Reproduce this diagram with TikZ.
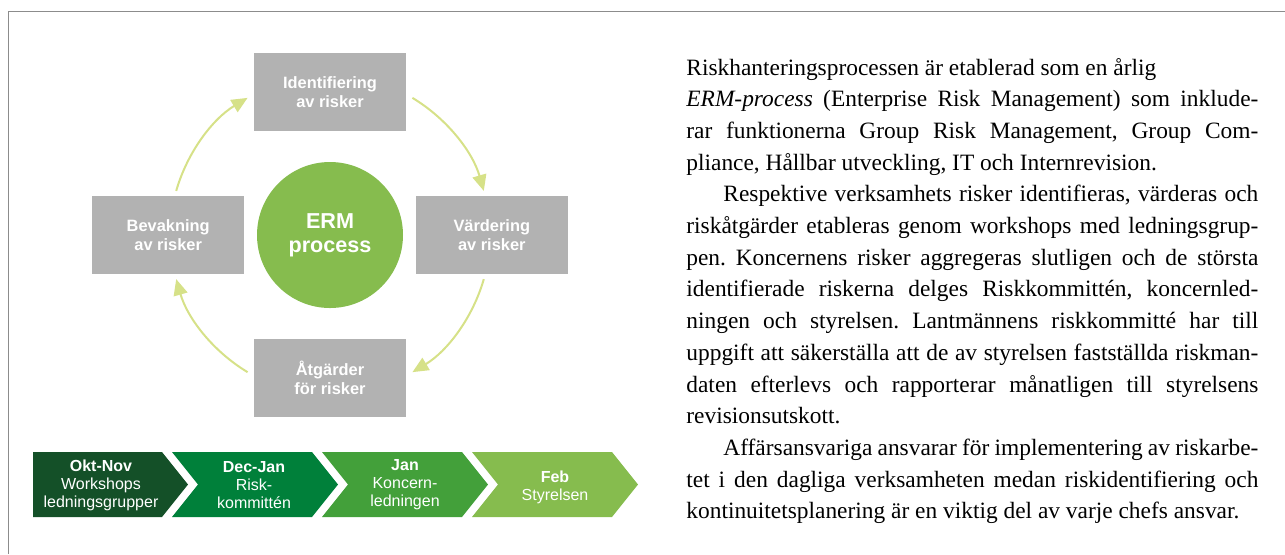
\documentclass[tikz,border=0pt]{standalone}
\usepackage{fontspec}
\setmainfont{Liberation Serif}
\setsansfont{Liberation Sans}
\usepackage{tikz}
\usetikzlibrary{arrows.meta, positioning}
\definecolor{boxgray}{RGB}{178,178,178}
\definecolor{ermgreen}{RGB}{134,188,78}
\definecolor{arrowgreen}{RGB}{214,225,136}
\definecolor{framegray}{RGB}{140,140,140}
\definecolor{phaseA}{RGB}{20,80,40}
\definecolor{phaseB}{RGB}{0,128,58}
\definecolor{phaseC}{RGB}{67,160,58}
\definecolor{phaseD}{RGB}{134,188,78}
\tikzset{
  stepbox/.style={
    rectangle, fill=boxgray, text=white, align=center,
    minimum width=76pt, minimum height=39pt,
    font=\sffamily\bfseries\fontsize{8.2}{9.5}\selectfont
  },
  ermcircle/.style={circle, fill=ermgreen, text=white, align=center, inner sep=0pt,
    minimum size=73pt, font=\sffamily\bfseries\fontsize{10.8}{12}\selectfont},
  cyclearrow/.style={-{Triangle[length=8pt,width=7pt]}, line width=1pt, color=arrowgreen},
  phasetext/.style={text=white, align=center, font=\sffamily\fontsize{8}{9}\selectfont},
  bodytext/.style={anchor=base west, inner sep=0pt, text width=286pt, align=justify,
    font=\rmfamily\fontsize{11.7}{15.85}\selectfont}
}

\begin{document}
\begin{tikzpicture}[x=0.5pt, y=-0.5pt]
  \useasboundingbox (0,0) rectangle (1285,554);
  \draw[framegray, line width=0.8pt] (8.5,554) -- (8.5,11.5) -- (1285,11.5);

  % process cycle
  \node[ermcircle] (erm) at (330,235) {ERM\\process};
  \node[stepbox, above=15pt of erm] (ident) {Identifiering\\av risker};
  \node[stepbox, right=6pt of erm] (vard) {Värdering\\av risker};
  \node[stepbox, below=15pt of erm] (atg) {Åtgärder\\för risker};
  \node[stepbox, left=6pt of erm] (bevak) {Bevakning\\av risker};
  \draw[cyclearrow] ([shift={(-59:160)}]erm.center) arc[start angle=-59, end angle=-16, radius=160];
  \draw[cyclearrow] ([shift={(16:160)}]erm.center) arc[start angle=16, end angle=59, radius=160];
  \draw[cyclearrow] ([shift={(121:160)}]erm.center) arc[start angle=121, end angle=164, radius=160];
  \draw[cyclearrow] ([shift={(196:160)}]erm.center) arc[start angle=196, end angle=239, radius=160];

  % timeline
  \fill[phaseA] (33,452) -- (162,452) -- (188,484.5) -- (162,517) -- (33,517) -- cycle;
  \fill[phaseB] (172,452) -- (312,452) -- (338,484.5) -- (312,517) -- (172,517) -- (198,484.5) -- cycle;
  \fill[phaseC] (322,452) -- (462,452) -- (488,484.5) -- (462,517) -- (322,517) -- (348,484.5) -- cycle;
  \fill[phaseD] (472,452) -- (612,452) -- (638,484.5) -- (612,517) -- (472,517) -- (498,484.5) -- cycle;
  \node[phasetext] (oktnov) at (101,485) {\textbf{Okt-Nov}\\Workshops\\ledningsgrupper};
  \node[phasetext] (decjan) at (254,485) {\textbf{Dec-Jan}\\Risk-\\kommittén};
  \node[phasetext] (jan) at (405,485) {\textbf{Jan}\\Koncern-\\ledningen};
  \node[phasetext] (feb) at (555,487) {\textbf{Feb}\\Styrelsen};

  % text column
  \node[bodytext] (body) at (686,75) {\setlength{\parindent}{18.5pt}\hyphenpenalty=10000\frenchspacing
    \noindent Riskhanteringsprocessen är etablerad som en årlig\newline
    \emph{ERM-process} (Enterprise Risk Management) som inklude-\linebreak
    rar funktionerna Group Risk Management, Group Com-\linebreak
    pliance, Hållbar utveckling, IT och Internrevision.\par
    Respektive verksamhets risker identifieras, värderas och\linebreak
    riskåtgärder etableras genom workshops med ledningsgrup-\linebreak
    pen. Koncernens risker aggregeras slutligen och de största\linebreak
    identifierade riskerna delges Riskkommittén, koncernled-\linebreak
    ningen och styrelsen. Lantmännens riskkommitté har till\linebreak
    uppgift att säkerställa att de av styrelsen fastställda riskman-\linebreak
    daten efterlevs och rapporterar månatligen till styrelsens\linebreak
    revisionsutskott.\par
    Affärsansvariga ansvarar för implementering av riskarbe-\linebreak
    tet i den dagliga verksamheten medan riskidentifiering och\linebreak
    kontinuitetsplanering är en viktig del av varje chefs ansvar.\par};
\end{tikzpicture}
\end{document}
